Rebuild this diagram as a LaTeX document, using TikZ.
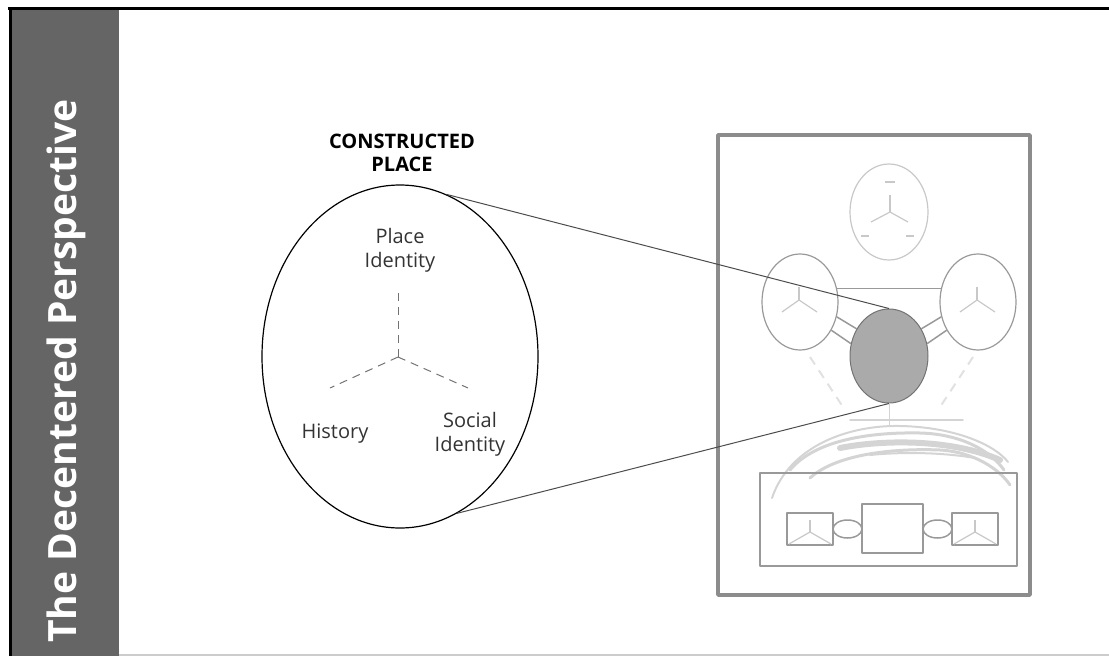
\documentclass[tikz,border=0pt]{standalone}
\usepackage{fontspec}
\setmainfont{Open Sans}
\usetikzlibrary{shapes.geometric}
\definecolor{sidegray}{HTML}{656565}
\definecolor{framegray}{HTML}{8C8C8C}
\definecolor{midgray}{HTML}{999999}
\definecolor{palegray}{HTML}{C8C8C8}
\definecolor{swooshgray}{HTML}{D4D4D4}
\definecolor{coregray}{HTML}{AAAAAA}
\begin{document}
\begin{tikzpicture}[x=1pt,y=-1pt,line join=bevel]
  \tikzstyle{oval}=[ellipse,draw,inner sep=0pt]
  \tikzstyle{label}=[font=\fontsize{20}{24}\selectfont,text=black!80,align=center]
  \tikzstyle{ytrace}=[draw=palegray,line width=1.2pt]
  \tikzstyle{swoosh}=[draw=swooshgray,line cap=round]
  \useasboundingbox (0,0) rectangle (1109,656);
  % side bar
  \fill[sidegray] (12,9) rectangle (119,656);
  \draw[line width=3pt] (10,7) -- (10,656);
  \draw[line width=3pt] (8,8) -- (1109,8);
  \draw[black!20,line width=1.5pt] (119,655) -- (1109,655);
  \node[rotate=90,text=white,font=\bfseries\fontsize{39}{44}\selectfont] (title) at (66,371) {The Decentered Perspective};
  % constructed place
  \node[font=\bfseries\fontsize{20}{23}\selectfont,align=center] (head) at (402,153) {CONSTRUCTED\\PLACE};
  \node[oval,line width=1.2pt,minimum width=276,minimum height=343] (place) at (400,356.5) {};
  \node[label] (pid) at (400,250) {Place\\Identity};
  \node[label] (hist) at (335,434) {History};
  \node[label] (sid) at (470,434) {Social\\Identity};
  \coordinate (hub) at (398,357);
  \draw[dash pattern=on 8pt off 6pt,black!55,line width=1pt] (hub) -- (398,292);
  \draw[dash pattern=on 8pt off 6pt,black!55,line width=1pt] (hub) -- (330,388);
  \draw[dash pattern=on 8pt off 6pt,black!55,line width=1pt] (hub) -- (468,388);
  % decentred frame
  \draw[framegray,line width=4pt] (718,135) rectangle (1030,595);
  \node[oval,draw=palegray,line width=1.2pt,minimum width=78,minimum height=96] (upper) at (889,212) {};
  \draw[ytrace] (890,212) -- (890,195);
  \draw[ytrace] (890,212) -- (871,222);
  \draw[ytrace] (890,212) -- (908,222);
  \draw[ytrace,line width=2pt] (885,182) -- (895,182);
  \draw[ytrace,line width=2pt] (861,236) -- (869,236);
  \draw[ytrace,line width=2pt] (906,236) -- (914,236);
  \node[oval,draw=midgray,line width=1.2pt,minimum width=76,minimum height=96] (sideL) at (800,302) {};
  \node[oval,draw=midgray,line width=1.2pt,minimum width=76,minimum height=96] (sideR) at (978,302) {};
  \draw[ytrace] (799,300) -- (799,287);
  \draw[ytrace] (799,300) -- (782,312);
  \draw[ytrace] (799,300) -- (817,312);
  \draw[ytrace] (977,300) -- (977,287);
  \draw[ytrace] (977,300) -- (960,312);
  \draw[ytrace] (977,300) -- (995,312);
  \node[oval,draw=black!55,fill=coregray,line width=1pt,minimum width=78,minimum height=94] (core) at (889,356) {};
  \draw[midgray,line width=1.8pt] (sideL.20) -- (sideR.160);
  \draw[midgray,line width=1.5pt] (sideL.-22) -- (core.140);
  \draw[midgray,line width=1.5pt] (sideL.-42) -- (core.162);
  \draw[midgray,line width=1.5pt] (sideR.-158) -- (core.40);
  \draw[midgray,line width=1.5pt] (sideR.-138) -- (core.18);
  \draw[swooshgray!70,dash pattern=on 9pt off 7pt,line width=2pt] (810,357) -- (843,407);
  \draw[swooshgray!70,dash pattern=on 9pt off 7pt,line width=2pt] (973,357) -- (940,407);
  % swooshes
  \draw[swoosh,line width=1pt] (889,403) -- (889,425);
  \draw[swoosh,line width=1.5pt] (850,420) -- (963,420);
  \draw[swoosh,line width=2pt] (772,498) .. controls (790,445) and (850,425) .. (900,426) .. controls (955,427) and (995,445) .. (1008,462);
  \draw[swoosh,line width=3pt] (790,470) .. controls (815,440) and (870,432) .. (920,433) .. controls (960,434) and (990,450) .. (1004,470);
  \draw[swoosh,line width=6pt] (840,448) .. controls (880,440) and (950,438) .. (1000,460);
  \draw[swoosh,line width=3pt] (810,478) .. controls (835,455) and (890,448) .. (940,450) .. controls (975,452) and (1000,470) .. (1010,485);
  \draw[swoosh,line width=2pt] (870,455) .. controls (900,452) and (940,452) .. (975,458);
  % bottom row
  \draw[midgray,line width=2pt] (760,473) rectangle (1017,566);
  \node[draw=midgray,line width=1.5pt,minimum width=46,minimum height=32,inner sep=0pt] (boxL) at (810,529) {};
  \node[oval,draw=midgray,line width=1.5pt,minimum width=29,minimum height=18] (linkL) at (847.5,529) {};
  \node[draw=midgray,line width=1.5pt,minimum width=61,minimum height=49,inner sep=0pt] (hubbox) at (892.5,528.5) {};
  \node[oval,draw=midgray,line width=1.5pt,minimum width=29,minimum height=18] (linkR) at (937.5,529) {};
  \node[draw=midgray,line width=1.5pt,minimum width=46,minimum height=32,inner sep=0pt] (boxR) at (975,529) {};
  \draw[ytrace] (810,532) -- (810,520);
  \draw[ytrace] (810,532) -- (789,544);
  \draw[ytrace] (810,532) -- (831,544);
  \draw[ytrace] (975,532) -- (975,520);
  \draw[ytrace] (975,532) -- (954,544);
  \draw[ytrace] (975,532) -- (996,544);
  % zoom lines
  \draw[black!70,line width=1pt] (place.74) -- (core.north);
  \draw[black!70,line width=1pt] (place.-70) -- (core.south);
\end{tikzpicture}
\end{document}
